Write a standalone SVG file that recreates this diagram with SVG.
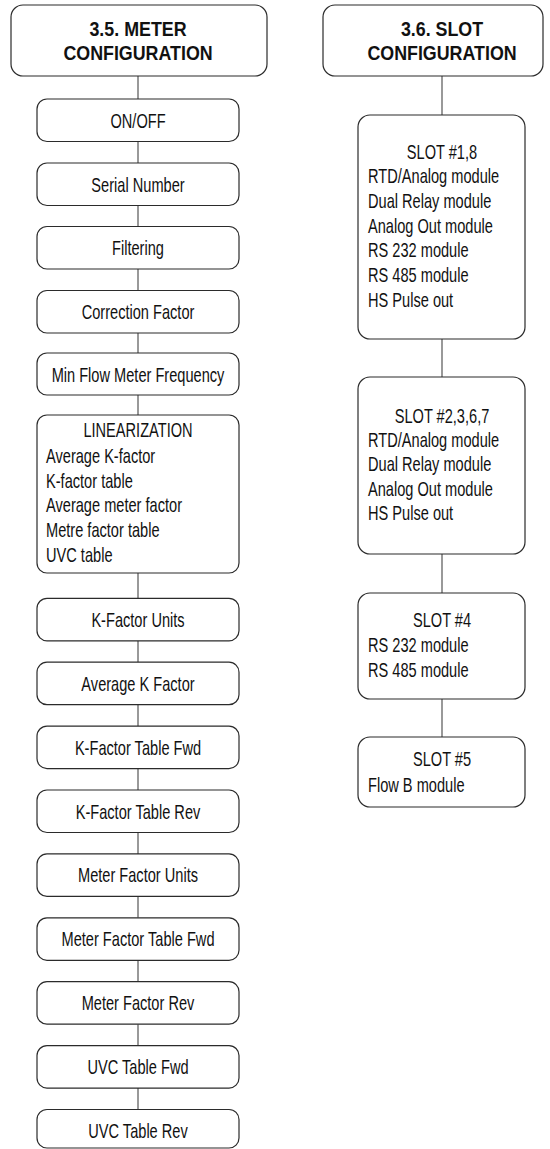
<svg xmlns="http://www.w3.org/2000/svg" width="550" height="1149" viewBox="0 0 550 1149">
  <style>
    .box { fill: #ffffff; stroke: #2b2b2b; stroke-width: 1.2; }
    .link { stroke: #555555; stroke-width: 1.2; fill: none; }
    .hd { font-family: "Liberation Sans", Arial, sans-serif; font-weight: bold; font-size: 21px; fill: #111111; text-anchor: middle; }
    .lb { font-family: "Liberation Sans", Arial, sans-serif; font-size: 20px; fill: #111111; text-anchor: middle; }
    .ls { font-family: "Liberation Sans", Arial, sans-serif; font-size: 20px; fill: #111111; text-anchor: start; }
  </style>
  <rect width="550" height="1149" fill="#ffffff"/>

  <!-- connectors -->
  <g id="connectors">
    <line class="link" x1="138" y1="76" x2="138" y2="99"/>
    <line class="link" x1="138" y1="141.5" x2="138" y2="163"/>
    <line class="link" x1="138" y1="205.5" x2="138" y2="226.5"/>
    <line class="link" x1="138" y1="269" x2="138" y2="290.5"/>
    <line class="link" x1="138" y1="333" x2="138" y2="353"/>
    <line class="link" x1="138" y1="395" x2="138" y2="415"/>
    <line class="link" x1="138" y1="573" x2="138" y2="598.3"/>
    <line class="link" x1="138" y1="640.8" x2="138" y2="662.2"/>
    <line class="link" x1="138" y1="704.7" x2="138" y2="726.1"/>
    <line class="link" x1="138" y1="768.6" x2="138" y2="790"/>
    <line class="link" x1="138" y1="832.5" x2="138" y2="853.9"/>
    <line class="link" x1="138" y1="896.4" x2="138" y2="917.8"/>
    <line class="link" x1="138" y1="960.3" x2="138" y2="981.7"/>
    <line class="link" x1="138" y1="1024.2" x2="138" y2="1045.6"/>
    <line class="link" x1="138" y1="1088.1" x2="138" y2="1109.5"/>
    <line class="link" x1="442" y1="76" x2="442" y2="115"/>
    <line class="link" x1="442" y1="339" x2="442" y2="377"/>
    <line class="link" x1="442" y1="554" x2="442" y2="593"/>
    <line class="link" x1="442" y1="699" x2="442" y2="737"/>
  </g>

  <!-- left column: meter configuration -->
  <g id="meter-config">
    <rect class="box" x="11" y="5" width="256" height="71" rx="12"/>
    <text class="hd" transform="translate(138 36) scale(0.85 1)">3.5. METER</text>
    <text class="hd" transform="translate(138 60) scale(0.85 1)">CONFIGURATION</text>
  </g>
  <g id="on-off">
    <rect class="box" x="37" y="99" width="202" height="42.5" rx="10"/>
    <text class="lb" transform="translate(138 127.5) scale(0.73 1)">ON/OFF</text>
  </g>
  <g id="serial-number">
    <rect class="box" x="37" y="163" width="202" height="42.5" rx="10"/>
    <text class="lb" transform="translate(138 191.5) scale(0.73 1)">Serial Number</text>
  </g>
  <g id="filtering">
    <rect class="box" x="37" y="226.5" width="202" height="42.5" rx="10"/>
    <text class="lb" transform="translate(138 255) scale(0.73 1)">Filtering</text>
  </g>
  <g id="correction-factor">
    <rect class="box" x="37" y="290.5" width="202" height="42.5" rx="10"/>
    <text class="lb" transform="translate(138 319) scale(0.73 1)">Correction Factor</text>
  </g>
  <g id="min-flow-frequency">
    <rect class="box" x="37" y="353" width="202" height="42" rx="10"/>
    <text class="lb" transform="translate(138 381.5) scale(0.73 1)">Min Flow Meter Frequency</text>
  </g>
  <g id="linearization">
    <rect class="box" x="37" y="415" width="202" height="158" rx="10"/>
    <text class="lb" transform="translate(138 437) scale(0.73 1)">LINEARIZATION</text>
    <text class="ls" transform="translate(46 463) scale(0.73 1)">
      <tspan x="0" y="0">Average K-factor</tspan>
      <tspan x="0" y="24.7">K-factor table</tspan>
      <tspan x="0" y="49.4">Average meter factor</tspan>
      <tspan x="0" y="74.1">Metre factor table</tspan>
      <tspan x="0" y="98.8">UVC table</tspan>
    </text>
  </g>
  <g id="k-factor-units">
    <rect class="box" x="37" y="598.3" width="202" height="42.5" rx="10"/>
    <text class="lb" transform="translate(138 626.8) scale(0.73 1)">K-Factor Units</text>
  </g>
  <g id="average-k-factor">
    <rect class="box" x="37" y="662.2" width="202" height="42.5" rx="10"/>
    <text class="lb" transform="translate(138 690.7) scale(0.73 1)">Average K Factor</text>
  </g>
  <g id="k-factor-table-fwd">
    <rect class="box" x="37" y="726.1" width="202" height="42.5" rx="10"/>
    <text class="lb" transform="translate(138 754.6) scale(0.73 1)">K-Factor Table Fwd</text>
  </g>
  <g id="k-factor-table-rev">
    <rect class="box" x="37" y="790" width="202" height="42.5" rx="10"/>
    <text class="lb" transform="translate(138 818.5) scale(0.73 1)">K-Factor Table Rev</text>
  </g>
  <g id="meter-factor-units">
    <rect class="box" x="37" y="853.9" width="202" height="42.5" rx="10"/>
    <text class="lb" transform="translate(138 882.4) scale(0.73 1)">Meter Factor Units</text>
  </g>
  <g id="meter-factor-table-fwd">
    <rect class="box" x="37" y="917.8" width="202" height="42.5" rx="10"/>
    <text class="lb" transform="translate(138 946.3) scale(0.73 1)">Meter Factor Table Fwd</text>
  </g>
  <g id="meter-factor-rev">
    <rect class="box" x="37" y="981.7" width="202" height="42.5" rx="10"/>
    <text class="lb" transform="translate(138 1010.2) scale(0.73 1)">Meter Factor Rev</text>
  </g>
  <g id="uvc-table-fwd">
    <rect class="box" x="37" y="1045.6" width="202" height="42.5" rx="10"/>
    <text class="lb" transform="translate(138 1074.1) scale(0.73 1)">UVC Table Fwd</text>
  </g>
  <g id="uvc-table-rev">
    <rect class="box" x="37" y="1109.5" width="202" height="38.5" rx="10"/>
    <text class="lb" transform="translate(138 1138) scale(0.73 1)">UVC Table Rev</text>
  </g>

  <!-- right column: slot configuration -->
  <g id="slot-config">
    <rect class="box" x="323" y="5" width="220" height="71" rx="12"/>
    <text class="hd" transform="translate(442 36) scale(0.85 1)">3.6. SLOT</text>
    <text class="hd" transform="translate(442 60) scale(0.85 1)">CONFIGURATION</text>
  </g>
  <g id="slot-1-8">
    <rect class="box" x="358" y="115" width="167" height="224" rx="12"/>
    <text class="lb" transform="translate(442 158.5) scale(0.73 1)">SLOT #1,8</text>
    <text class="ls" transform="translate(368 183.2) scale(0.73 1)">
      <tspan x="0" y="0">RTD/Analog module</tspan>
      <tspan x="0" y="24.7">Dual Relay module</tspan>
      <tspan x="0" y="49.4">Analog Out module</tspan>
      <tspan x="0" y="74.1">RS 232 module</tspan>
      <tspan x="0" y="98.8">RS 485 module</tspan>
      <tspan x="0" y="123.5">HS Pulse out</tspan>
    </text>
  </g>
  <g id="slot-2-3-6-7">
    <rect class="box" x="358" y="377" width="167" height="177" rx="12"/>
    <text class="lb" transform="translate(442 423) scale(0.73 1)">SLOT #2,3,6,7</text>
    <text class="ls" transform="translate(368 447) scale(0.73 1)">
      <tspan x="0" y="0">RTD/Analog module</tspan>
      <tspan x="0" y="24.4">Dual Relay module</tspan>
      <tspan x="0" y="48.8">Analog Out module</tspan>
      <tspan x="0" y="73.2">HS Pulse out</tspan>
    </text>
  </g>
  <g id="slot-4">
    <rect class="box" x="358" y="593" width="167" height="106" rx="12"/>
    <text class="lb" transform="translate(442 627) scale(0.73 1)">SLOT #4</text>
    <text class="ls" transform="translate(368 652) scale(0.73 1)">
      <tspan x="0" y="0">RS 232 module</tspan>
      <tspan x="0" y="25">RS 485 module</tspan>
    </text>
  </g>
  <g id="slot-5">
    <rect class="box" x="358" y="737" width="167" height="70" rx="12"/>
    <text class="lb" transform="translate(442 766) scale(0.73 1)">SLOT #5</text>
    <text class="ls" transform="translate(368 792) scale(0.73 1)">Flow B module</text>
  </g>
</svg>
